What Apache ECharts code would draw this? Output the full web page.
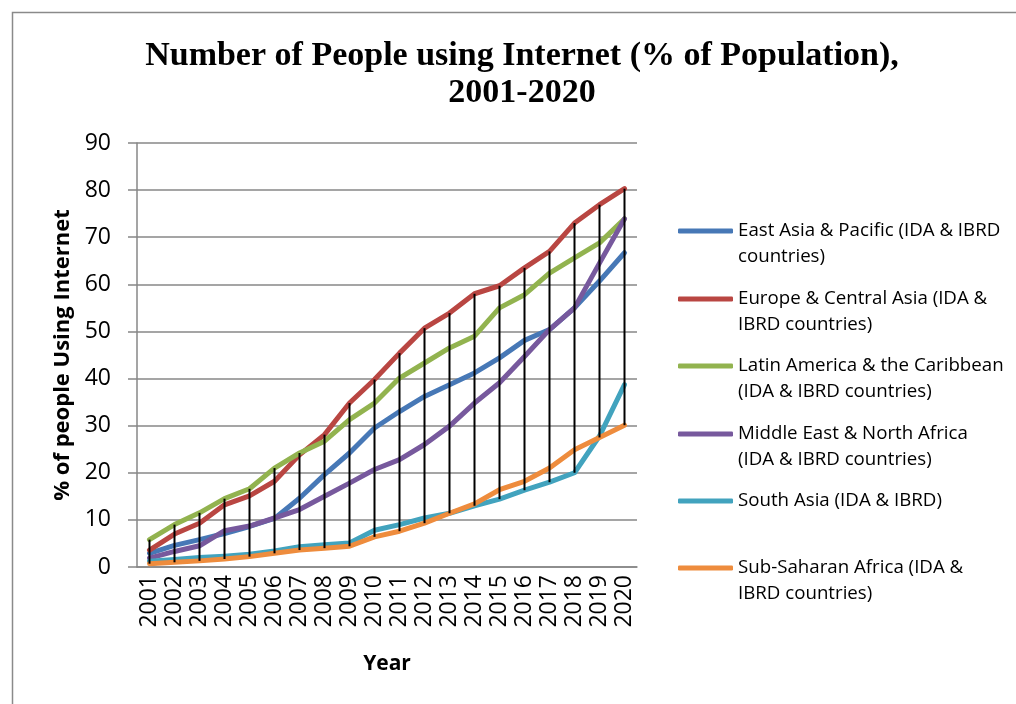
<!DOCTYPE html>
<html>
<head>
<meta charset="utf-8">
<title>Internet users by region, 2001-2020</title>
<script src="https://cdn.jsdelivr.net/npm/echarts@6/dist/echarts.min.js"></script>
<style>
  html, body { margin: 0; padding: 0; background: #ffffff; }
  #chart { width: 1016px; height: 704px; }
</style>
</head>
<body>
<div id="chart"></div>
<script>
// Years on the category axis
const years = ['2001','2002','2003','2004','2005','2006','2007','2008','2009','2010',
               '2011','2012','2013','2014','2015','2016','2017','2018','2019','2020'];

// Individuals using the Internet, % of population
const eastAsiaPacific   = [2.9, 4.6, 5.8, 7.1, 8.6, 10.3, 14.6, 19.6, 24.2, 29.5, 33.0, 36.2, 38.7, 41.2, 44.4, 48.1, 50.4, 55.0, 60.7, 66.7];
const europeCentralAsia = [3.6, 7.0, 9.3, 13.2, 15.1, 18.2, 23.8, 28.1, 34.8, 39.8, 45.4, 50.7, 53.9, 58.0, 59.7, 63.5, 67.0, 73.0, 76.9, 80.3];
const latinAmerica      = [5.8, 9.0, 11.5, 14.5, 16.6, 21.0, 24.2, 26.7, 31.3, 34.8, 40.1, 43.3, 46.5, 49.0, 55.0, 57.8, 62.4, 65.6, 68.8, 73.9];
const middleEastNAfrica = [1.9, 3.3, 4.5, 7.7, 8.7, 10.4, 12.2, 15.0, 17.8, 20.7, 22.8, 26.0, 29.9, 34.8, 39.1, 44.7, 50.4, 55.0, 64.5, 73.9];
const southAsia         = [1.2, 1.6, 2.0, 2.3, 2.7, 3.4, 4.3, 4.7, 5.1, 7.8, 9.0, 10.4, 11.4, 13.0, 14.4, 16.3, 18.0, 20.0, 27.8, 38.7];
const subSaharanAfrica  = [0.7, 1.0, 1.3, 1.7, 2.2, 2.9, 3.6, 4.0, 4.4, 6.4, 7.6, 9.3, 11.4, 13.4, 16.4, 18.2, 21.0, 24.9, 27.5, 30.1];

// Series names and their two-line legend captions
const seriesNames = [
  'East Asia & Pacific (IDA & IBRD countries)',
  'Europe & Central Asia (IDA & IBRD countries)',
  'Latin America & the Caribbean (IDA & IBRD countries)',
  'Middle East & North Africa (IDA & IBRD countries)',
  'South Asia (IDA & IBRD)',
  'Sub-Saharan Africa (IDA & IBRD countries)'
];
const legendCaptions = [
  'East Asia & Pacific (IDA & IBRD\ncountries)',
  'Europe & Central Asia (IDA &\nIBRD countries)',
  'Latin America & the Caribbean\n(IDA & IBRD countries)',
  'Middle East & North Africa\n(IDA & IBRD countries)',
  'South Asia (IDA & IBRD)\n ',
  'Sub-Saharan Africa (IDA &\nIBRD countries)'
];

// Y-axis range
const yMin = 0, yMax = 90, yStep = 10;

const seriesValues = [eastAsiaPacific, europeCentralAsia, latinAmerica, middleEastNAfrica, southAsia, subSaharanAfrica];
const colors = ['#4778B6', '#B94642', '#92B34F', '#77599D', '#42A3BE', '#EE8C3D'];

// High-low range per year, spanning every region
const highLow = years.map((y, i) => {
  const vals = seriesValues.map(s => s[i]);
  return [i, Math.min.apply(null, vals), Math.max.apply(null, vals)];
});

const FONT = '"Open Sans", "Liberation Sans", sans-serif';
const GRID_GRAY = '#878787';

const lineSeries = seriesValues.map((vals, k) => ({
  name: seriesNames[k],
  type: 'line',
  data: vals,
  showSymbol: false,
  symbol: 'none',
  lineStyle: { width: 5, color: colors[k], cap: 'round', join: 'round' },
  itemStyle: { color: colors[k] },
  z: 2,
  animation: false
}));

const highLowSeries = {
  name: 'high-low',
  type: 'custom',
  data: highLow,
  z: 5,
  animation: false,
  silent: true,
  renderItem: function (params, api) {
    const i = api.value(0);
    const lo = api.coord([i, api.value(1)]);
    const hi = api.coord([i, api.value(2)]);
    return {
      type: 'line',
      shape: { x1: lo[0], y1: lo[1], x2: hi[0], y2: hi[1] },
      style: { stroke: '#000000', lineWidth: 2 }
    };
  }
};

// One legend block per region, stacked down the right-hand side.
// A leading blank line keeps the key line level with the caption's first line.
const legendFirstLines = [231, 299, 366, 434, 501, 568];
const LEGEND_LH = 26;
const legends = seriesNames.map((name, k) => ({
  data: [{ name: name, icon: 'roundRect' }],
  left: 678,
  top: legendFirstLines[k] - 1.5 * LEGEND_LH,
  padding: 0,
  itemWidth: 55,
  itemHeight: 5,
  itemGap: 0,
  selectedMode: false,
  formatter: () => ' \n' + legendCaptions[k],
  textStyle: {
    fontFamily: FONT,
    fontSize: 18.7,
    color: '#000000',
    lineHeight: LEGEND_LH
  }
}));

const chart = echarts.init(document.getElementById('chart'), null, { renderer: 'canvas' });

chart.setOption({
  animation: false,
  backgroundColor: '#ffffff',
  color: colors,
  graphic: [
    {
      type: 'rect',
      shape: { x: 12.5, y: 12.5, width: 1040, height: 740 },
      style: { fill: 'none', stroke: '#8a8a8a', lineWidth: 1.5 },
      silent: true
    },
    {
      type: 'text',
      x: 522,
      y: 38,
      style: {
        text: 'Number of People using Internet (% of Population),\n2001-2020',
        fontFamily: '"Liberation Serif", "Times New Roman", serif',
        fontWeight: 'bold',
        fontSize: 34,
        lineHeight: 37,
        fill: '#000000',
        align: 'center',
        verticalAlign: 'top'
      },
      silent: true
    }
  ],
  legend: legends,
  grid: { left: 137, right: 379, top: 143, bottom: 137, containLabel: false },
  xAxis: {
    type: 'category',
    data: years,
    boundaryGap: true,
    name: 'Year',
    nameLocation: 'middle',
    nameGap: 87,
    nameTextStyle: { fontFamily: FONT, fontSize: 21, fontWeight: 'bold', color: '#000000', verticalAlign: 'top' },
    axisLine: { show: true, lineStyle: { color: GRID_GRAY, width: 1.5 } },
    axisTick: { show: false },
    axisLabel: { rotate: 90, margin: 8, fontFamily: FONT, fontSize: 23, color: '#000000', interval: 0 },
    splitLine: { show: false }
  },
  yAxis: {
    type: 'value',
    min: yMin,
    max: yMax,
    interval: yStep,
    name: '% of people Using Internet',
    nameLocation: 'middle',
    nameRotate: 90,
    nameGap: 63,
    nameTextStyle: { fontFamily: FONT, fontSize: 22, fontWeight: 'bold', color: '#000000' },
    axisLine: { show: true, lineStyle: { color: GRID_GRAY, width: 1.5 } },
    axisTick: { show: true, inside: false, length: 9, lineStyle: { color: GRID_GRAY, width: 1.5 } },
    axisLabel: { margin: 26, fontFamily: FONT, fontSize: 23, color: '#000000' },
    splitLine: { show: true, lineStyle: { color: GRID_GRAY, width: 1.5 } }
  },
  series: lineSeries.concat([highLowSeries])
});
</script>
</body>
</html>
